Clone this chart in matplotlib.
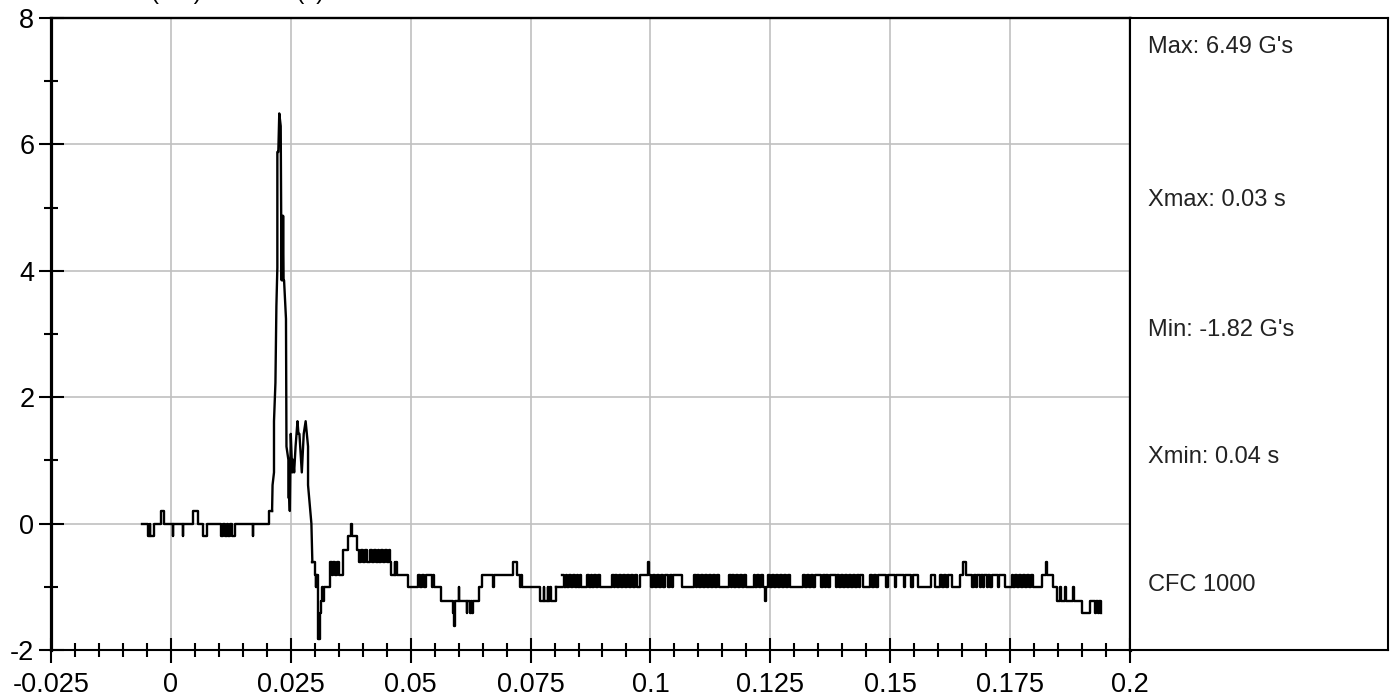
import numpy as np
import matplotlib
matplotlib.use("Agg")
import matplotlib.pyplot as plt
from matplotlib.ticker import FixedLocator, FixedFormatter, MultipleLocator

plt.rcParams['font.family'] = ['Liberation Sans', 'DejaVu Sans']

# ---------------- data (time in ms, acceleration in G's) ----------------
# pre-impact baseline (step data)
pre_ms = [-6.1, -4.7, -4.4, -4.3, -3.6, -2.1, -1.5, 0.4, 0.5, 2.5, 2.6, 4.7, 5.6,
          6.7, 7.6, 10.4, 10.8, 11.2, 11.6, 12.0, 12.4, 12.8, 13.3, 17.1, 17.2,
          20.4, 21.1]
pre_g = [0.0, -0.20, 0.0, -0.20, 0.0, 0.20, 0.0, -0.20, 0.0, -0.20, 0.0, 0.20, 0.0,
         -0.20, 0.0, -0.20, 0.0, -0.20, 0.0, -0.20, 0.0, -0.20, 0.0, -0.20, 0.0,
         0.20, 0.20]

# impact pulse (line data)
pulse_ms = [21.1, 21.2, 21.5, 21.5, 21.8, 22.0, 22.2, 22.2, 22.4, 22.6, 22.9, 23.0,
            23.1, 23.2, 23.3, 23.4, 23.5, 23.6, 24.0, 24.1, 24.5, 24.5, 24.7, 24.8,
            25.0, 25.3, 25.5, 25.7, 26.0, 26.4, 26.6, 26.8, 27.3, 27.7, 28.1, 28.6,
            28.6, 29.3, 29.5]
pulse_g = [0.20, 0.61, 0.81, 1.62, 2.23, 3.44, 4.05, 5.88, 5.88, 6.49, 6.29, 4.87,
           3.85, 4.87, 3.85, 4.87, 3.85, 3.85, 3.24, 1.22, 1.01, 0.41, 0.41, 0.20,
           1.42, 0.81, 1.01, 0.81, 1.22, 1.62, 1.42, 1.42, 0.81, 1.42, 1.62, 1.22,
           0.61, 0.00, -0.61]

# rebound and settling (step data)
post_ms = [29.5, 30.0, 30.2, 30.3, 30.4, 30.5, 30.6, 30.7, 30.8, 30.9, 31.0,
           31.2, 31.3, 31.4, 31.6, 31.8, 31.9,
           33.2, 33.5, 33.9, 34.3, 34.7, 35.1, 35.9, 37.0, 37.5, 37.8, 38.8,
           39.2, 39.6, 40.0, 40.4, 40.8,
           41.5, 41.9, 42.3, 42.7, 43.1, 43.5, 43.9, 44.3, 44.7, 45.1, 45.5, 45.7,
           46.0, 46.7, 46.8, 47.0, 47.1, 49.5,
           51.6, 51.9, 52.3, 52.7, 53.1, 54.5, 54.6, 54.8,
           56.4, 58.9, 59.0, 59.2, 59.3, 60.0, 60.1,
           61.7, 61.8, 62.4, 62.5, 62.8, 62.9, 64.2, 64.8, 67.1, 67.3,
           71.4, 72.1, 72.7, 72.8, 72.9, 73.1, 73.2,
           76.9, 77.8, 77.9, 78.6, 78.7, 79.1, 79.2, 80.4]
post_g = [-0.61, -0.81, -1.01, -0.81, -1.01, -0.81, -1.42, -1.82, -1.62, -1.82, -1.42,
          -1.22, -1.42, -1.22, -1.01, -1.22, -1.01,
          -0.61, -0.81, -0.61, -0.81, -0.61, -0.81, -0.41, -0.20, 0.00, -0.20, -0.41,
          -0.61, -0.41, -0.61, -0.41, -0.61,
          -0.41, -0.61, -0.41, -0.61, -0.41, -0.61, -0.41, -0.61, -0.41, -0.61, -0.41, -0.61,
          -0.81, -0.61, -0.81, -0.61, -0.81, -1.01,
          -0.81, -1.01, -0.81, -1.01, -0.81, -1.01, -0.81, -1.01,
          -1.22, -1.42, -1.62, -1.42, -1.22, -1.01, -1.22,
          -1.42, -1.22, -1.42, -1.22, -1.42, -1.22, -1.01, -0.81, -1.01, -0.81,
          -0.61, -0.81, -1.01, -0.81, -1.01, -0.81, -1.01,
          -1.22, -1.01, -1.22, -1.01, -1.22, -1.01, -1.22, -1.01]

# steady chatter between -0.81 and -1.01 G and run-out (step data)
tail_ms = [81.5, 81.9, 82.3, 82.7, 83.1, 83.5, 83.9, 84.2, 84.6, 84.9, 85.3, 85.6,
           86.7, 87.1, 87.5, 87.9, 88.3, 88.7, 89.1, 89.4,
           91.9, 92.3, 92.7, 93.1, 93.5, 93.9, 94.3, 94.7, 95.1, 95.5, 95.9, 96.3, 96.7, 97.1,
           97.8, 99.5, 99.8, 100.2, 100.6, 101.0, 101.4, 101.8, 102.2,
           102.6, 103.0, 103.6, 104.0, 104.4, 104.8, 106.5,
           109.0, 109.4, 109.8, 110.2, 110.6, 111.0, 111.4, 111.8, 112.2, 112.6, 113.0, 113.4, 113.8, 114.2,
           116.3, 116.7, 117.1, 117.5, 117.9, 118.3, 118.7, 119.1, 119.5, 119.9,
           121.5, 121.9, 122.3, 122.7, 123.1, 123.5, 123.9, 124.2,
           124.6, 125.0, 125.4, 125.8, 126.2, 126.6, 127.0, 127.4, 127.8, 128.2, 128.6, 129.0,
           131.9, 132.3, 132.7, 133.1, 133.5, 133.9, 134.3, 135.5, 135.9, 136.3, 136.7, 137.1,
           137.5, 138.6, 139.0, 139.4, 139.8, 140.2, 140.6, 141.0, 141.4, 141.8, 142.2, 142.6,
           143.0, 143.4, 143.8, 144.4, 145.8, 146.2, 146.6, 147.0, 147.4,
           149.2, 149.6, 151.0, 151.3, 152.8, 153.0, 154.4, 154.8, 155.8,
           158.6, 159.3, 160.4, 160.8, 161.2, 161.6, 162.0, 162.4, 162.8,
           164.5, 165.2, 165.8, 167.0, 167.4, 167.8, 168.0, 168.7, 168.9, 169.4, 169.6,
           170.1, 170.3, 170.8, 171.2, 172.5, 172.7, 173.9,
           175.3, 175.7, 176.1, 176.5, 176.9, 177.3, 177.7, 178.1, 178.5, 178.9, 179.3, 179.7,
           181.6, 182.4, 182.6, 184.0, 184.7, 185.4, 185.6, 186.4, 186.6, 188.1, 188.3,
           189.9, 191.6, 192.7, 193.0, 193.3, 193.6, 193.9]
tail_g = [-0.81, -1.01, -0.81, -1.01, -0.81, -1.01, -0.81, -1.01, -0.81, -1.01, -0.81, -1.01,
          -0.81, -1.01, -0.81, -1.01, -0.81, -1.01, -0.81, -1.01,
          -0.81, -1.01, -0.81, -1.01, -0.81, -1.01, -0.81, -1.01, -0.81, -1.01, -0.81, -1.01, -0.81, -1.01,
          -0.81, -0.61, -0.81, -1.01, -0.81, -1.01, -0.81, -1.01, -0.81,
          -1.01, -0.81, -1.01, -0.81, -1.01, -0.81, -1.01,
          -0.81, -1.01, -0.81, -1.01, -0.81, -1.01, -0.81, -1.01, -0.81, -1.01, -0.81, -1.01, -0.81, -1.01,
          -0.81, -1.01, -0.81, -1.01, -0.81, -1.01, -0.81, -1.01, -0.81, -1.01,
          -0.81, -1.01, -0.81, -1.01, -0.81, -1.01, -1.22, -1.01,
          -0.81, -1.01, -0.81, -1.01, -0.81, -1.01, -0.81, -1.01, -0.81, -1.01, -0.81, -1.01,
          -0.81, -1.01, -0.81, -1.01, -0.81, -1.01, -0.81, -1.01, -0.81, -1.01, -0.81, -1.01,
          -0.81, -1.01, -0.81, -1.01, -0.81, -1.01, -0.81, -1.01, -0.81, -1.01, -0.81, -1.01,
          -0.81, -1.01, -0.81, -1.01, -0.81, -1.01, -0.81, -1.01, -0.81,
          -1.01, -0.81, -1.01, -0.81, -1.01, -0.81, -1.01, -0.81, -1.01,
          -0.81, -1.01, -0.81, -1.01, -0.81, -1.01, -0.81, -0.81, -1.01,
          -0.81, -0.61, -0.81, -1.01, -0.81, -1.01, -0.81, -1.01, -0.81, -1.01, -0.81,
          -1.01, -0.81, -1.01, -0.81, -1.01, -0.81, -1.01,
          -0.81, -1.01, -0.81, -1.01, -0.81, -1.01, -0.81, -1.01, -0.81, -1.01, -0.81, -1.01,
          -0.81, -0.61, -0.81, -1.01, -1.22, -1.01, -1.22, -1.01, -1.22, -1.01, -1.22,
          -1.42, -1.22, -1.42, -1.22, -1.42, -1.22, -1.42]

x_ticks = [-0.025, 0, 0.025, 0.05, 0.075, 0.1, 0.125, 0.15, 0.175, 0.2]
x_tick_labels = ['-0.025', '0', '0.025', '0.05', '0.075', '0.1', '0.125', '0.15', '0.175', '0.2']
y_ticks = [-2, 0, 2, 4, 6, 8]
y_tick_labels = ['-2', '0', '2', '4', '6', '8']

stats_labels = ["Max: 6.49 G's", "Xmax: 0.03 s", "Min: -1.82 G's", "Xmin: 0.04 s", "CFC 1000"]
title_text = "Acceleration (G's) vs Time (s)"

# ---------------- figure ----------------
W, H = 1395, 698
fig = plt.figure(figsize=(W / 100, H / 100), dpi=100)
L, R, T, B = 51, 1130, 18, 650
ax = fig.add_axes([L / W, (H - B) / H, (R - L) / W, (B - T) / H])

LW = 1.7
ax.plot(np.array(pre_ms) / 1000, pre_g, color='black', lw=LW, drawstyle='steps-post')
ax.plot(np.array(pulse_ms) / 1000, pulse_g, color='black', lw=LW)
ax.plot(np.array(post_ms) / 1000, post_g, color='black', lw=LW, drawstyle='steps-post')
ax.plot([post_ms[-1] / 1000, tail_ms[0] / 1000], [post_g[-1], post_g[-1]], color='black', lw=LW)
ax.plot(np.array(tail_ms) / 1000, tail_g, color='black', lw=LW, drawstyle='steps-post')

ax.set_xlim(-0.025, 0.2)
ax.set_ylim(-2, 8)
ax.xaxis.set_major_locator(FixedLocator(x_ticks))
ax.xaxis.set_major_formatter(FixedFormatter(x_tick_labels))
ax.xaxis.set_minor_locator(MultipleLocator(0.005))
ax.yaxis.set_major_locator(FixedLocator(y_ticks))
ax.yaxis.set_major_formatter(FixedFormatter(y_tick_labels))
ax.yaxis.set_minor_locator(MultipleLocator(1))

ax.grid(True, which='major', color='#c0c0c0', lw=1.2)
ax.set_axisbelow(True)
ax.tick_params(which='major', direction='inout', length=18, width=1.5, labelsize=19.5,
               colors='black')
ax.tick_params(which='minor', direction='inout', length=10, width=1.5)
ax.tick_params(axis='x', which='major', pad=6.5)
ax.tick_params(axis='y', which='major', pad=3)
ax.spines['left'].set_linewidth(2.3)
ax.spines['right'].set_linewidth(2.3)
ax.spines['top'].set_linewidth(1.7)
ax.spines['bottom'].set_linewidth(1.5)

# stats panel
ax2 = fig.add_axes([R / W, (H - B) / H, (1388 - R) / W, (B - T) / H])
ax2.set_xticks([])
ax2.set_yticks([])
for s in ax2.spines.values():
    s.set_linewidth(1.5)
for lab, ypix in zip(stats_labels, [47, 200, 330, 457, 585]):
    ax2.text(18 / (1388 - R), (B - ypix) / (B - T), lab, transform=ax2.transAxes,
             fontsize=17, color='#222222', va='center', ha='left')

fig.text(14 / W, 1.0 + 0.5 / H, title_text, fontsize=17, ha='left', va='baseline')

fig.savefig('out.png', dpi=100)
